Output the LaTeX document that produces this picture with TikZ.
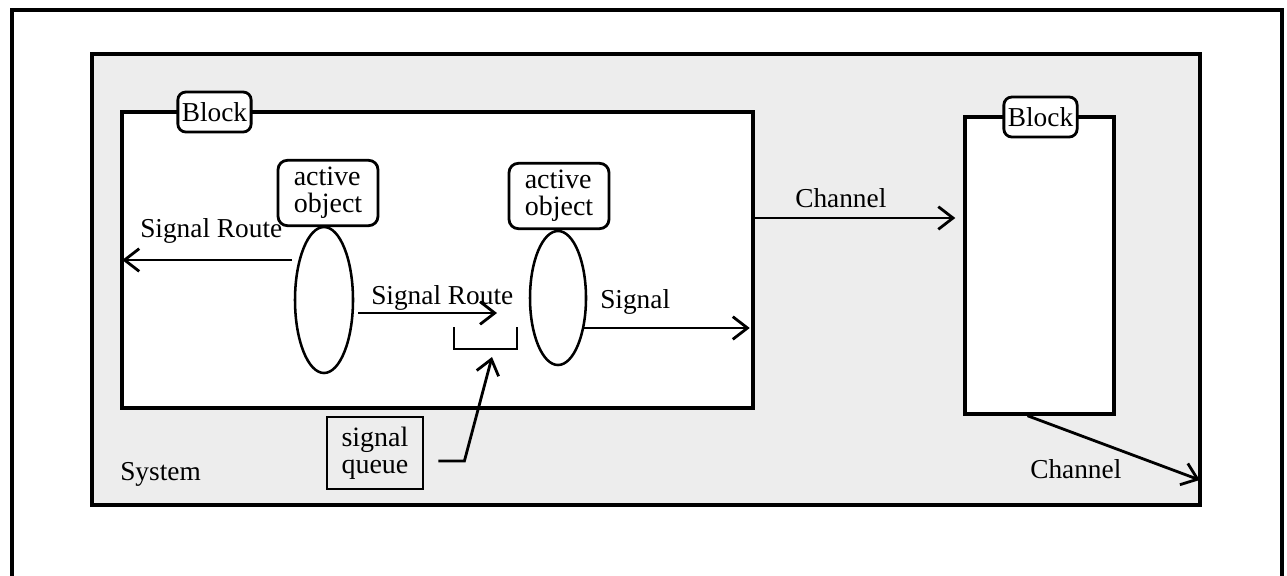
\documentclass[tikz,border=0pt]{standalone}
\usepackage{fontspec}
\setmainfont{Liberation Serif}
\usetikzlibrary{arrows.meta,calc,shapes.geometric}
\begin{document}
\begin{tikzpicture}[x=0.75pt,y=-0.75pt,
  font=\fontsize{20.5}{22}\selectfont,
  frame/.style={line width=2.4pt},
  sysbox/.style={draw, line width=2.6pt, fill=black!7, inner sep=0pt},
  blockbox/.style={draw, line width=2.6pt, fill=white, inner sep=0pt},
  tagbox/.style={draw, line width=2.1pt, rounded corners=6pt, fill=white, inner sep=3pt, minimum height=30pt},
  objbox/.style={draw, line width=2.1pt, rounded corners=7pt, fill=white, align=left,
     minimum width=75pt, minimum height=49pt, inner sep=3pt, font=\fontsize{21}{20}\selectfont},
  oval/.style={draw, ellipse, line width=1.9pt, inner sep=0pt},
  qbox/.style={draw, line width=2.1pt, align=left, minimum width=72pt, minimum height=54pt, inner sep=2pt, font=\fontsize{21}{20}\selectfont},
  bracket/.style={line width=2pt},
  arr/.style={line width=2.1pt, -{Straight Barb[length=11pt,width=17pt]}},
  lbl/.style={anchor=base west, inner sep=0pt}
]
\useasboundingbox (0,0) rectangle (1287,575);
\draw[frame] (12,590) -- (12,10) -- (1282,10) -- (1282,590);

\node[sysbox, minimum width=831pt, minimum height=338.25pt] (sys) at (646,279.5) {};
\node[blockbox, minimum width=473.25pt, minimum height=222pt] (b1) at (437.5,260) {};
\node[blockbox, minimum width=111.75pt, minimum height=222.75pt] (b2) at (1039.5,265.5) {};
\node[tagbox] (t1) at (214.5,112) {Block};
\node[tagbox] (t2) at (1040.5,117) {Block};

\node[oval, minimum width=43.5pt, minimum height=109.5pt] (e1) at (324,300) {};
\node[oval, minimum width=42pt, minimum height=100.5pt] (e2) at (558,298) {};
\node[objbox] (o1) at (328,193) {active\\object};
\node[objbox] (o2) at (559,196) {active\\object};

\coordinate (qb) at (485.5,349);
\draw[bracket] ($(qb)+(-31.5,-22)$) -- ($(qb)+(-31.5,0)$) -- ($(qb)+(31.5,0)$) -- ($(qb)+(31.5,-22)$);
\node[qbox] (sq) at (375,453) {signal\\queue};

% connectors
\coordinate (sr1s) at (292,260);
\draw[arr] (sr1s) -- ($(sr1s -| b1.west)+(2,0)$);
\coordinate (sr2s) at (358,313);
\draw[arr] (sr2s) -- ++(139,0);
\coordinate (sgs) at (583,328);
\draw[arr] (sgs) -- ($(sgs -| b1.east)+(-5,0)$);
\path (b1.east) ++(0,-42) coordinate (c1s);
\draw[arr] (c1s) -- ($(c1s -| b2.west)+(-8,0)$);
\draw[arr] ($(b2.south)+(-12,0)$) -- ($(sys.east)+(-2,200.5)$);
\draw[arr] ($(sq.east)+(14,8)$) -- ++(26,0) -- ($(qb)+(6.5,8)$);

% labels
\node[lbl] (l1) at (140,237) {Signal Route};
\node[lbl] (l2) at (371,304) {Signal Route};
\node[lbl] (l3) at (600,308) {Signal};
\node[lbl] (l4) at (795,207) {Channel};
\node[lbl] (l5) at (1030,478) {Channel};
\node[lbl] (l6) at (120,480) {System};
\end{tikzpicture}
\end{document}
